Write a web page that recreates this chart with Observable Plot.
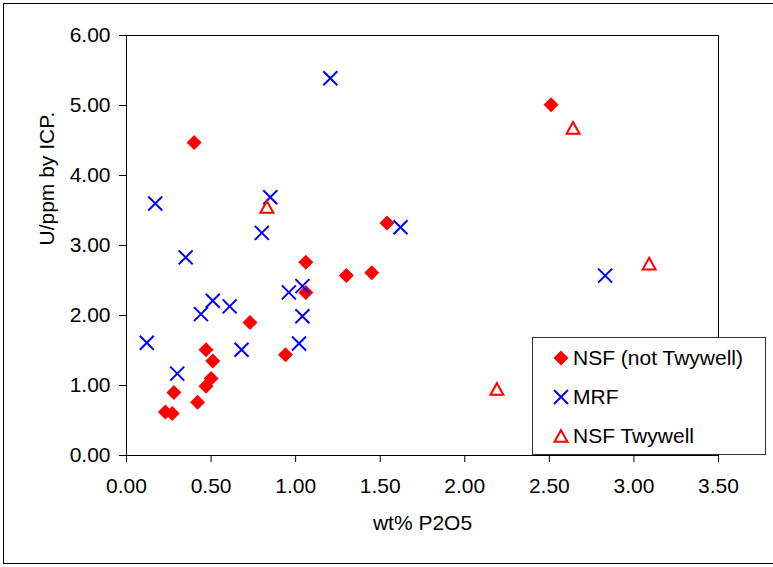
<!DOCTYPE html>
<html>
<head>
<meta charset="utf-8">
<script src="https://cdn.jsdelivr.net/npm/d3@7"></script>
<script src="https://cdn.jsdelivr.net/npm/@observablehq/plot@0.6"></script>
<style>
  html, body { margin: 0; padding: 0; background: #fff; }
  #wrap { position: relative; width: 773px; height: 567px; overflow: hidden; font-family: "Liberation Sans", Arial, sans-serif; }
  #border { position: absolute; left: 3px; top: 3px; width: 780px; height: 561px; border: 1px solid #000; box-sizing: border-box; pointer-events: none; }
  #legend { position: absolute; left: 532px; top: 337px; width: 234px; height: 118px; border: 1px solid #333; background: #fff; box-sizing: border-box; }
  .row { position: absolute; left: 0; height: 24px; font-size: 21px; line-height: 24px; color: #000; white-space: nowrap; }
  .row svg { position: absolute; left: 18px; top: 2px; overflow: visible; }
  .row span { position: absolute; left: 40px; top: 0; }
</style>
</head>
<body>
<div id="wrap"><div id="chart"></div><div id="border"></div><div id="legend"></div></div>
<script>
// ---- data ----
const seriesNames = ["NSF (not Twywell)", "MRF", "NSF Twywell"];

const nsfX = [0.40, 1.54, 1.06, 1.30, 1.45, 1.06, 0.73, 0.94, 0.47, 0.51, 0.50, 0.47, 0.28, 0.42, 0.23, 0.27, 2.51];
const nsfY = [4.47, 3.32, 2.76, 2.57, 2.61, 2.33, 1.90, 1.44, 1.51, 1.35, 1.10, 0.99, 0.90, 0.76, 0.62, 0.60, 5.01];

const mrfX = [1.205, 0.17, 0.85, 0.80, 1.62, 0.35, 0.96, 1.04, 0.51, 0.44, 0.61, 1.04, 0.12, 0.68, 1.02, 0.30, 2.83];
const mrfY = [5.39, 3.60, 3.69, 3.18, 3.26, 2.83, 2.33, 2.42, 2.21, 2.02, 2.13, 1.99, 1.61, 1.51, 1.60, 1.17, 2.57];

const twyX = [0.83, 2.64, 3.09, 2.19];
const twyY = [3.55, 4.68, 2.74, 0.95];

const xTicks = [0, 0.5, 1, 1.5, 2, 2.5, 3, 3.5];
const yTicks = [0, 1, 2, 3, 4, 5, 6];
const xLabel = "wt% P2O5";
const yLabel = "U/ppm by ICP.";

// ---- marker shapes (Excel-like, centred on the point) ----
const diamondSym = { draw(ctx, size) { const r = Math.sqrt(size / Math.PI);
  ctx.moveTo(0, -r); ctx.lineTo(r, 0); ctx.lineTo(0, r); ctx.lineTo(-r, 0); ctx.closePath(); } };
const timesSym = { draw(ctx, size) { const r = Math.sqrt(size / Math.PI);
  ctx.moveTo(-r, -r); ctx.lineTo(r, r); ctx.moveTo(-r, r); ctx.lineTo(r, -r); } };
const triSym = { draw(ctx, size) { const r = Math.sqrt(size / Math.PI);
  ctx.moveTo(0, -r * 0.9); ctx.lineTo(r, r * 0.9); ctx.lineTo(-r, r * 0.9); ctx.closePath(); } };

const styles = [
  { symbol: diamondSym, r: 7.5, fill: "#ff0000", stroke: "none", strokeWidth: 0 },
  { symbol: timesSym, r: 7, fill: "none", stroke: "#0000ff", strokeWidth: 2 },
  { symbol: triSym, r: 6.5, fill: "none", stroke: "#ff0000", strokeWidth: 2 }
];

const nsf = nsfX.map((x, i) => ({ x, y: nsfY[i] }));
const mrf = mrfX.map((x, i) => ({ x, y: mrfY[i] }));
const twy = twyX.map((x, i) => ({ x, y: twyY[i] }));
const sets = [nsf, mrf, twy];

const font = "'Liberation Sans', Arial, sans-serif";

const chart = Plot.plot({
  width: 773,
  height: 567,
  marginLeft: 126,
  marginRight: 55,
  marginTop: 35,
  marginBottom: 112,
  style: { fontFamily: font, fontSize: "21px", color: "#000", background: "transparent", overflow: "visible" },
  x: { domain: [0, 3.5] },
  y: { domain: [0, 6] },
  marks: [
    Plot.frame({ stroke: "#000", strokeWidth: 1 }),
    Plot.axisX({ ticks: xTicks, tickFormat: d3.format(".2f"), tickSize: 7, tickPadding: 16, label: null, fontSize: 21, stroke: "#000" }),
    Plot.axisY({ ticks: yTicks, tickFormat: d3.format(".2f"), tickSize: 7, tickPadding: 9, label: null, fontSize: 21, stroke: "#000" }),
    Plot.text([xLabel], { text: d => d, frameAnchor: "bottom", dy: 68, lineAnchor: "middle", fontSize: 21, fill: "#000" }),
    Plot.text([yLabel], { text: d => d, frameAnchor: "left", dx: -79, rotate: -90, lineAnchor: "middle", fontSize: 21, fill: "#000" }),
    ...sets.map((data, i) => Plot.dot(data, { x: "x", y: "y", ...styles[i] }))
  ]
});
document.getElementById("chart").appendChild(chart);

// ---- legend ----
const legend = d3.select("#legend");
const rowCenters = [20, 59, 98];
seriesNames.forEach((name, i) => {
  const st = styles[i];
  const row = legend.append("div").attr("class", "row").style("top", (rowCenters[i] - 12) + "px");
  const svg = row.append("svg").attr("width", 20).attr("height", 20);
  svg.append("path")
    .attr("transform", "translate(10,10)")
    .attr("d", d3.symbol(st.symbol, st.r * st.r * Math.PI)())
    .attr("fill", st.fill)
    .attr("stroke", st.stroke)
    .attr("stroke-width", st.strokeWidth);
  row.append("span").text(name);
});
</script>
</body>
</html>
